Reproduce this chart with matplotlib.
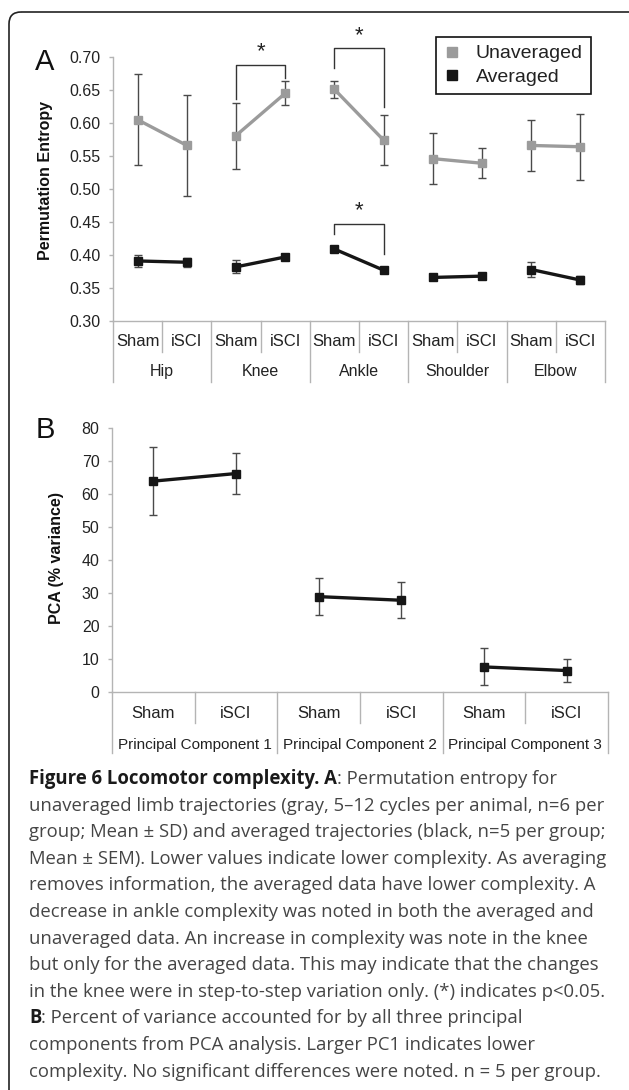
import numpy as np
import matplotlib.pyplot as plt
from matplotlib.lines import Line2D
from matplotlib.patches import FancyBboxPatch

plt.rcParams['font.family'] = ['Liberation Sans', 'DejaVu Sans']

# panel A: permutation entropy, two groups per joint
joints = ['Hip', 'Knee', 'Ankle', 'Shoulder', 'Elbow']
groups = ['Sham', 'iSCI']
unavg_mean = [0.605, 0.566, 0.581, 0.645, 0.651, 0.574, 0.546, 0.539, 0.566, 0.564]
unavg_sd = [0.069, 0.077, 0.050, 0.018, 0.013, 0.038, 0.039, 0.023, 0.038, 0.050]
avg_mean = [0.391, 0.389, 0.382, 0.397, 0.409, 0.377, 0.366, 0.368, 0.378, 0.362]
avg_sem = [0.009, 0.007, 0.010, 0.004, 0.002, 0.003, 0.003, 0.003, 0.012, 0.006]

# significance brackets: (left, right, top, left end, right end)
brackets = [(2, 3, 0.688, 0.637, 0.668),
            (4, 5, 0.713, 0.684, 0.624),
            (4, 5, 0.4475, 0.432, 0.401)]

# panel B: PCA variance
components = ['Principal Component 1', 'Principal Component 2', 'Principal Component 3']
pca_mean = [63.9, 66.2, 28.9, 27.8, 7.6, 6.5]
pca_err = [10.4, 6.3, 5.5, 5.4, 5.6, 3.5]

caption = [
    [('Figure 6 Locomotor complexity. A', True), (': Permutation entropy for', False)],
    [('unaveraged limb trajectories (gray, 5\u201312 cycles per animal, n=6 per', False)],
    [('group; Mean \u00b1 SD) and averaged trajectories (black, n=5 per group;', False)],
    [('Mean \u00b1 SEM). Lower values indicate lower complexity. As averaging', False)],
    [('removes information, the averaged data have lower complexity. A', False)],
    [('decrease in ankle complexity was noted in both the averaged and', False)],
    [('unaveraged data. An increase in complexity was note in the knee', False)],
    [('but only for the averaged data. This may indicate that the changes', False)],
    [('in the knee were in step-to-step variation only. (*) indicates p<0.05.', False)],
    [('B', True), (': Percent of variance accounted for by all three principal', False)],
    [('components from PCA analysis. Larger PC1 indicates lower', False)],
    [('complexity. No significant differences were noted. n = 5 per group.', False)],
]

AXIS_GRAY = '#b4b4b4'
ERR_GRAY = '#4a4a4a'


def style_axes(ax, ymin, ymax, step, fmt):
    # only left and bottom spines, light gray like the original
    for side in ['top', 'right']:
        ax.spines[side].set_visible(False)
    for side in ['left', 'bottom']:
        ax.spines[side].set_color(AXIS_GRAY)
        ax.spines[side].set_linewidth(1.0)
    ax.set_ylim(ymin, ymax)
    ticks = np.arange(ymin, ymax + step / 2, step)
    ax.set_yticks(ticks)
    ax.set_yticklabels([fmt.format(t) for t in ticks])
    ax.tick_params(axis='y', direction='out', length=3, width=1, color=AXIS_GRAY,
                   labelsize=11.5, labelcolor='#222222', pad=6)
    ax.set_xticks([])


def category_axis(ax, inner, outer, short_len, long_len, inner_y, outer_y, outer_size):
    # two-level category labels with separators below the axis
    n = len(outer) * len(inner)
    ax.set_xlim(-0.5, n - 0.5)
    tr = ax.get_xaxis_transform()
    for b in np.arange(-0.5, n, 1.0):
        length = long_len if (b + 0.5) % len(inner) == 0 else short_len
        ax.plot([b, b], [0, -length], color=AXIS_GRAY, lw=1.0, transform=tr, clip_on=False)
    for i in range(n):
        ax.text(i, inner_y, inner[i % len(inner)], transform=tr, ha='center', va='center',
                fontsize=12, color='#222222')
    for j, name in enumerate(outer):
        ax.text(j * len(inner) + (len(inner) - 1) / 2, outer_y, name, transform=tr,
                ha='center', va='center', fontsize=outer_size, color='#222222')


def plot_pairs(ax, mean, err, color, lw):
    # one connected pair per category group
    for j in range(len(mean) // 2):
        x = [2 * j, 2 * j + 1]
        y = mean[2 * j:2 * j + 2]
        e = err[2 * j:2 * j + 2]
        ax.errorbar(x, y, yerr=e, fmt='none', ecolor=ERR_GRAY, elinewidth=1.0,
                    capsize=3, capthick=1.0, zorder=2)
        ax.plot(x, y, '-s', color=color, lw=lw, markersize=6, zorder=3)


fig = plt.figure(figsize=(6.29, 10.90), dpi=100)

# overlay in pixel coordinates for the frame, labels and caption
over = fig.add_axes([0, 0, 1, 1], zorder=0)
over.set_xlim(0, 629)
over.set_ylim(1090, 0)
over.axis('off')
frame = FancyBboxPatch((9, 12), 640, 1100, boxstyle='round,pad=0,rounding_size=12',
                       fill=False, edgecolor='#222222', lw=1.2)
over.add_patch(frame)

# panel A
ax_a = fig.add_axes([113 / 629, 1 - 321 / 1090, 492 / 629, 264 / 1090], zorder=1)
style_axes(ax_a, 0.30, 0.70, 0.05, '{:.2f}')
category_axis(ax_a, groups, joints, 0.117, 0.231, -0.078, -0.193, 11.5)
plot_pairs(ax_a, unavg_mean, unavg_sd, '#9b9b9b', 2.4)
plot_pairs(ax_a, avg_mean, avg_sem, '#161616', 2.4)

for x0, x1, top, y0, y1 in brackets:
    ax_a.plot([x0, x0, x1, x1], [y0, top, top, y1], color='#333333', lw=1.0, clip_on=False)
    ax_a.text((x0 + x1) / 2, top + 0.004, '*', ha='center', va='bottom', fontsize=16,
              color='#222222', clip_on=False)

handles = [Line2D([], [], marker='s', ls='none', color='#9b9b9b', markersize=7),
           Line2D([], [], marker='s', ls='none', color='#161616', markersize=7)]
leg = ax_a.legend(handles, ['Unaveraged', 'Averaged'], loc='upper left',
                  bbox_to_anchor=(0.6565, 1.0758), borderaxespad=0, fontsize=14,
                  handlelength=0.8, handletextpad=0.85, labelspacing=0.3,
                  borderpad=0.4, fancybox=False, framealpha=1)
leg.get_frame().set_edgecolor('#111111')
leg.get_frame().set_linewidth(1.2)
for t in leg.get_texts():
    t.set_color('#222222')

# panel B
ax_b = fig.add_axes([112 / 629, 1 - 692 / 1090, 496 / 629, 264 / 1090], zorder=1)
style_axes(ax_b, 0, 80, 10, '{:.0f}')
category_axis(ax_b, groups, components, 0.117, 0.231, -0.080, -0.201, 11)
plot_pairs(ax_b, pca_mean, pca_err, '#161616', 2.4)

# panel letters and y labels
over.text(45, 62, 'A', fontsize=21, ha='center', va='center', color='#111111')
over.text(45, 430, 'B', fontsize=21, ha='center', va='center', color='#111111')
over.text(46, 180, 'Permutation Entropy', rotation=90, fontsize=11.5, fontweight='bold',
          ha='center', va='center', color='#111111')
over.text(57, 558, 'PCA (% variance)', rotation=90, fontsize=11.5, fontweight='bold',
          ha='center', va='center', color='#111111')

# caption, fitted to the width of the second line
fig.canvas.draw()
renderer = fig.canvas.get_renderer()
probe = over.text(0, 0, caption[1][0][0], fontsize=12, family='Open Sans')
size = 12 * 572 / probe.get_window_extent(renderer).width
probe.remove()

x_start, y_first, spacing = 29, 779, 26.6
for k, line in enumerate(caption):
    x = x_start
    y = y_first + k * spacing
    for text, bold in line:
        t = over.text(x, y, text, fontsize=size, family='Open Sans',
                      fontweight='bold' if bold else 'normal',
                      color='#1a1a1a' if bold else '#454545', ha='left', va='center')
        x += t.get_window_extent(renderer).width

fig.savefig('out.png', dpi=100)
